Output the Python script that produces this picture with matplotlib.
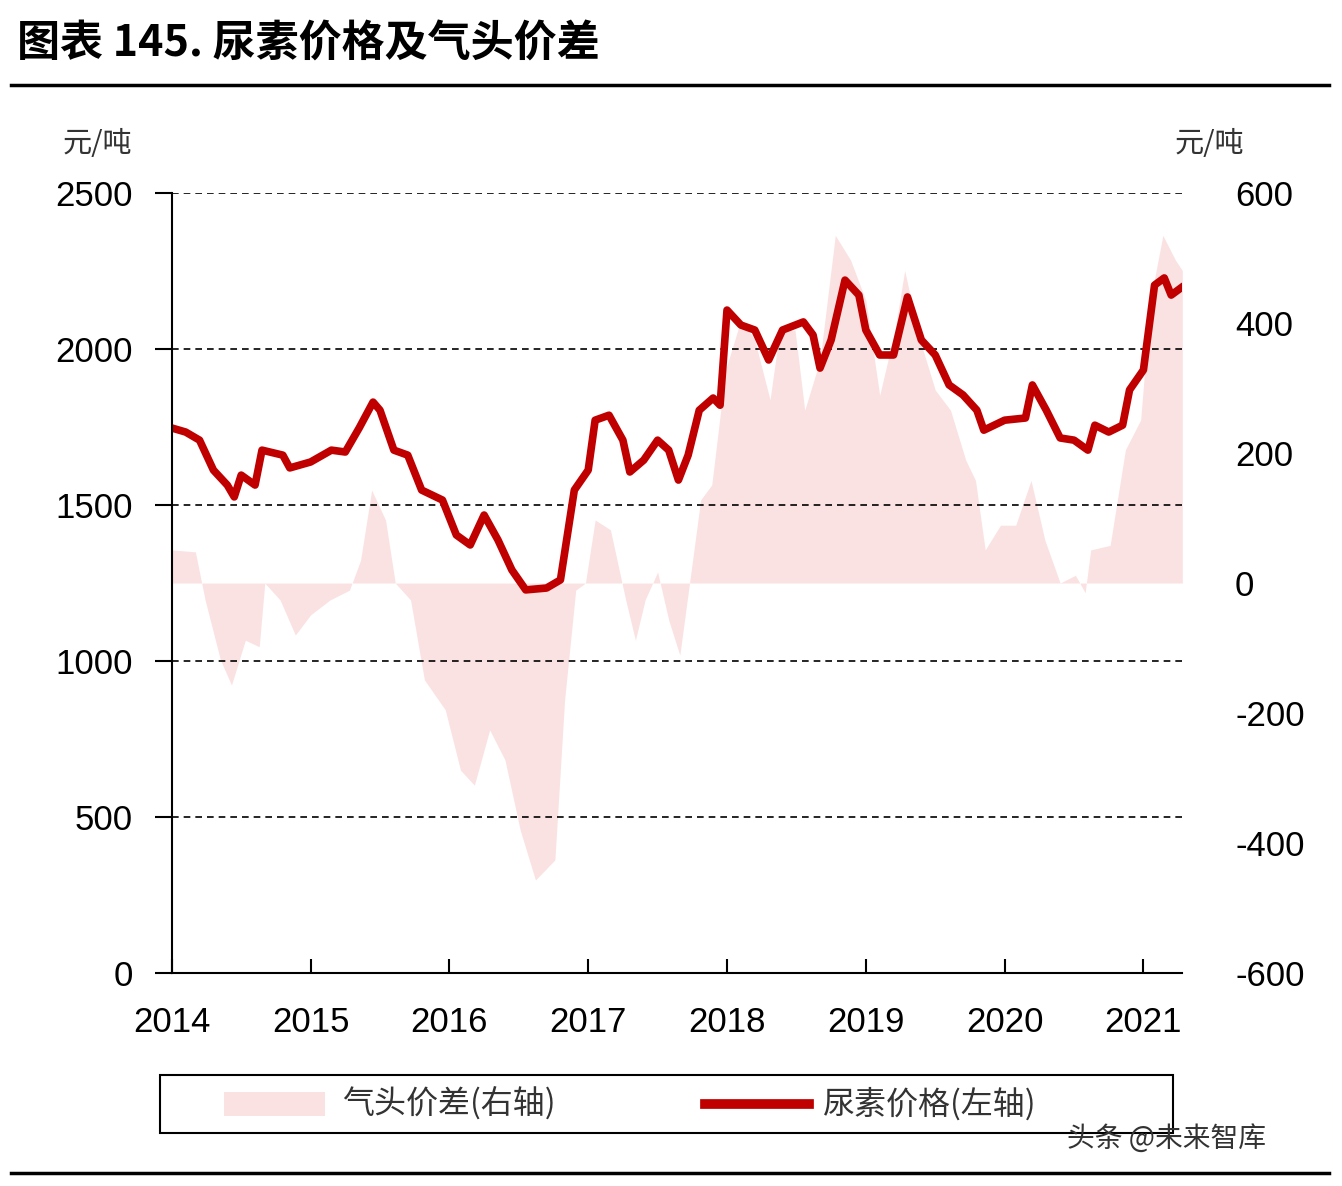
import matplotlib.pyplot as plt
import numpy as np

plt.rcParams['font.family'] = ['Liberation Sans', 'Noto Sans CJK SC', 'DejaVu Sans']
plt.rcParams['axes.unicode_minus'] = False

# 尿素价格 (左轴, 元/吨)
urea_t = [2014.00, 2014.10, 2014.20, 2014.30, 2014.40, 2014.45, 2014.50, 2014.60, 2014.65, 2014.80,
          2014.85, 2015.00, 2015.15, 2015.25, 2015.35, 2015.45, 2015.50, 2015.60, 2015.70, 2015.80,
          2015.95, 2016.05, 2016.15, 2016.25, 2016.35, 2016.45, 2016.55, 2016.70, 2016.80, 2016.90,
          2017.00, 2017.05, 2017.15, 2017.25, 2017.30, 2017.40, 2017.50, 2017.58, 2017.65, 2017.72,
          2017.80, 2017.90, 2017.95, 2018.00, 2018.10, 2018.20, 2018.30, 2018.40, 2018.55, 2018.62,
          2018.67, 2018.75, 2018.85, 2018.95, 2019.00, 2019.10, 2019.20, 2019.30, 2019.40, 2019.50,
          2019.60, 2019.70, 2019.80, 2019.85, 2020.00, 2020.15, 2020.20, 2020.30, 2020.40, 2020.50,
          2020.60, 2020.65, 2020.75, 2020.85, 2020.90, 2021.00, 2021.08, 2021.15, 2021.20, 2021.27]
urea_v = [1747, 1734, 1708, 1612, 1564, 1526, 1596, 1564, 1676, 1660,
          1619, 1638, 1676, 1670, 1747, 1830, 1804, 1676, 1660, 1548,
          1516, 1404, 1372, 1468, 1388, 1292, 1228, 1234, 1260, 1548,
          1612, 1772, 1788, 1708, 1606, 1644, 1708, 1676, 1580, 1660,
          1804, 1843, 1820, 2125, 2077, 2061, 1965, 2061, 2087, 2045,
          1939, 2029, 2221, 2173, 2061, 1981, 1981, 2167, 2029, 1981,
          1885, 1853, 1804, 1740, 1772, 1779, 1885, 1804, 1715, 1708,
          1676, 1756, 1734, 1756, 1869, 1933, 2205, 2228, 2173, 2196]

# 气头价差 (右轴, 元/吨)
spread_t = [2014.00, 2014.17, 2014.24, 2014.35, 2014.43, 2014.53, 2014.63, 2014.67, 2014.78, 2014.89,
            2015.00, 2015.14, 2015.28, 2015.36, 2015.44, 2015.54, 2015.61, 2015.72, 2015.82, 2015.97,
            2016.08, 2016.18, 2016.29, 2016.40, 2016.51, 2016.62, 2016.76, 2016.83, 2016.91, 2016.98,
            2017.05, 2017.16, 2017.27, 2017.34, 2017.41, 2017.50, 2017.58, 2017.66, 2017.73, 2017.81,
            2017.89, 2017.99, 2018.10, 2018.20, 2018.31, 2018.38, 2018.49, 2018.56, 2018.67, 2018.78,
            2018.89, 2019.00, 2019.10, 2019.21, 2019.28, 2019.39, 2019.50, 2019.61, 2019.72, 2019.79,
            2019.86, 2019.97, 2020.08, 2020.19, 2020.29, 2020.40, 2020.51, 2020.58, 2020.62, 2020.76,
            2020.87, 2020.98, 2021.05, 2021.14, 2021.23, 2021.28]
spread_v = [51, 48, -26, -118, -157, -88, -98, 0, -26, -80,
            -49, -26, -11, 35, 143, 97, 0, -26, -149, -195,
            -288, -311, -226, -272, -380, -457, -426, -180, -11, 0,
            97, 82, -26, -88, -26, 17, -57, -111, 0, 128,
            151, 328, 405, 374, 282, 389, 389, 266, 343, 535,
            497, 435, 289, 389, 481, 374, 297, 266, 189, 158,
            51, 89, 89, 158, 66, 0, 12, -15, 51, 58,
            205, 251, 435, 535, 497, 481]

years = list(range(2014, 2022))
left_ticks = [0, 500, 1000, 1500, 2000, 2500]
right_ticks = [-600, -400, -200, 0, 200, 400, 600]

red = '#c00000'
pink = '#fbe2e2'

fig = plt.figure(figsize=(13.42, 11.86), dpi=100)
ax = fig.add_axes([0.128, 0.1796, 0.753, 0.6576])
ax2 = ax.twinx()
ax.set_zorder(ax2.get_zorder() + 1)
ax.patch.set_visible(False)

ax2.fill_between(spread_t, spread_v, 0, color=pink, linewidth=0)
ax2.set_ylim(-600, 600)
ax2.set_yticks(right_ticks)
ax2.tick_params(axis='y', length=0, labelsize=25, pad=38)
for s in ax2.spines.values():
    s.set_visible(False)

ax.plot(urea_t, urea_v, color=red, linewidth=5.5, solid_joinstyle='round')
ax.set_ylim(0, 2500)
ax.set_xlim(2014, 2021.28)
ax.set_yticks(left_ticks)
ax.set_xticks(years)
ax.grid(True, axis='y', linestyle=(0, (4, 3)), color='black', linewidth=1.2)
ax.tick_params(axis='y', direction='out', length=12, width=1.5, labelsize=25, pad=16)
ax.tick_params(axis='x', direction='in', length=10, width=1.5, labelsize=25, pad=24)
for s in ['top', 'right']:
    ax.spines[s].set_visible(False)
for s in ['left', 'bottom']:
    ax.spines[s].set_linewidth(1.5)

fig.text(0.047, 0.872, '元/吨', fontsize=21, family=['Noto Sans CJK SC'], color='#333333')
fig.text(0.875, 0.872, '元/吨', fontsize=21, family=['Noto Sans CJK SC'], color='#333333')

fig.text(0.013, 0.963, '图表 145. 尿素价格及气头价差', fontsize=31, weight='bold',
         family=['Noto Sans CJK SC'], va='center')
fig.add_artist(plt.Line2D([0.008, 0.99], [0.928, 0.928], color='black', linewidth=2.5))
fig.add_artist(plt.Line2D([0.008, 0.99], [0.011, 0.011], color='black', linewidth=2.5))

# legend box
fig.add_artist(plt.Rectangle((0.119, 0.045), 0.755, 0.049, fill=False, edgecolor='black', linewidth=1.5))
fig.add_artist(plt.Rectangle((0.167, 0.059), 0.075, 0.02, facecolor=pink, edgecolor='none'))
fig.text(0.255, 0.069, '气头价差(右轴)', fontsize=23, family=['Noto Sans CJK SC'], va='center', color='#333333')
fig.add_artist(plt.Line2D([0.525, 0.603], [0.069, 0.069], color=red, linewidth=7))
fig.text(0.613, 0.069, '尿素价格(左轴)', fontsize=23, family=['Noto Sans CJK SC'], va='center', color='#333333')
fig.text(0.795, 0.04, '头条 @未来智库', fontsize=20, family=['Noto Sans CJK SC'], va='center', color='#333333')

fig.savefig('out.png', dpi=100)
